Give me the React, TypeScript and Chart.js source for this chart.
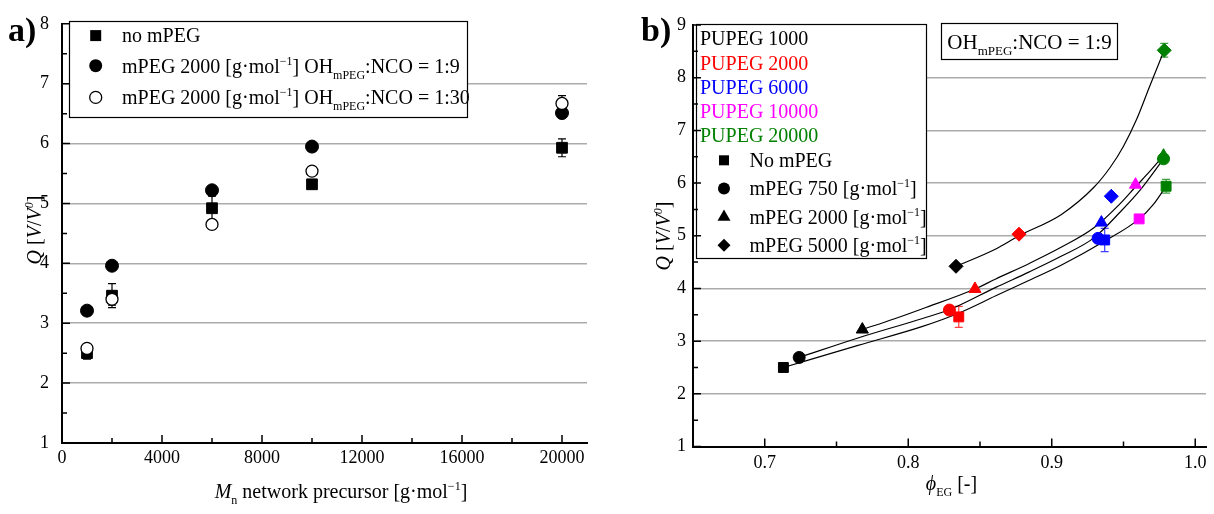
import React, { useEffect, useRef } from 'react';
import { Chart, registerables } from 'chart.js';

Chart.register(...registerables);

const FONT = "'Liberation Serif', 'Times New Roman', serif";

// ---------------- Panel a) data ----------------
const precursorMn = [1000, 2000, 6000, 10000, 20000];
const qNoMpeg = [2.5, 3.46, 4.92, 5.32, 5.93];
const qNoMpegErr = [0.1, 0.2, 0.2, 0.04, 0.15];
const qMpeg9 = [3.21, 3.96, 5.22, 5.95, 6.51];
const qMpeg9Err = [0.03, 0.03, 0.04, 0.03, 0.04];
const qMpeg30 = [2.58, 3.4, 4.65, 5.54, 6.67];
const qMpeg30Err = [0.06, 0.1, 0.08, 0.05, 0.13];

const panelAXTicks = [0, 4000, 8000, 12000, 16000, 20000];
const panelAXTickLabels = ['0', '4000', '8000', '12000', '16000', '20000'];
const panelAXMinor = [2000, 6000, 10000, 14000, 18000];
const panelAYTicks = [1, 2, 3, 4, 5, 6, 7, 8];
const panelAYTickLabels = ['1', '2', '3', '4', '5', '6', '7', '8'];
const panelAYMinor = [1.5, 2.5, 3.5, 4.5, 5.5, 6.5, 7.5];

// ---------------- Panel b) data ----------------
const pupegLabels = ['PUPEG 1000', 'PUPEG 2000', 'PUPEG 6000', 'PUPEG 10000', 'PUPEG 20000'];
const pupegColors = ['#000000', '#ff0000', '#0000ff', '#ff00ff', '#008000'];
const markerLabels = ['No mPEG', 'mPEG 750 [g·mol', 'mPEG 2000 [g·mol', 'mPEG 5000 [g·mol'];

const phiNoMpeg = [0.713, 0.8352, 0.9369, 0.9609, 0.9797];
const qBNoMpeg = [2.5, 3.46, 4.92, 5.32, 5.94];
const qBNoMpegErr = [0.06, 0.2, 0.22, 0.04, 0.13];
const phiMpeg750 = [0.724, 0.8287, 0.9323, null, 0.9779];
const qBMpeg750 = [2.69, 3.59, 4.95, null, 6.46];
const phiMpeg2000 = [0.768, 0.8465, 0.9346, 0.9584, 0.9779];
const qBMpeg2000 = [3.22, 3.99, 5.25, 5.97, 6.52];
const phiMpeg5000 = [0.8333, 0.8772, 0.9415, null, 0.9784];
const qBMpeg5000 = [4.42, 5.03, 5.75, null, 8.52];
const qBMpeg5000Err = [0, 0, 0, null, 0.13];

// fitted curves
const fitNoMpegPhi = [0.713, 0.765, 0.81, 0.835, 0.861, 0.884, 0.9065, 0.937, 0.961, 0.971, 0.9797];
const fitNoMpegQ = [2.5, 2.92, 3.28, 3.53, 3.86, 4.15, 4.44, 4.9, 5.32, 5.6, 5.94];
const fitMpeg750Phi = [0.724, 0.765, 0.81, 0.829, 0.861, 0.884, 0.9065, 0.9294, 0.9477, 0.9614, 0.9779];
const fitMpeg750Q = [2.69, 3.06, 3.43, 3.6, 4.02, 4.31, 4.61, 4.96, 5.45, 5.86, 6.46];
const fitMpeg2000Phi = [0.768, 0.79, 0.8104, 0.8465, 0.861, 0.884, 0.9065, 0.9294, 0.9477, 0.9584, 0.9683, 0.9779];
const fitMpeg2000Q = [3.22, 3.42, 3.62, 3.99, 4.18, 4.47, 4.78, 5.15, 5.61, 5.93, 6.22, 6.52];
const fitMpeg5000Phi = [0.8333, 0.861, 0.8772, 0.9065, 0.9294, 0.9408, 0.95, 0.959, 0.968, 0.9784];
const fitMpeg5000Q = [4.42, 4.75, 5.0, 5.4, 5.92, 6.3, 6.7, 7.2, 7.82, 8.52];

const panelBXTicks = [0.7, 0.8, 0.9, 1.0];
const panelBXTickLabels = ['0.7', '0.8', '0.9', '1.0'];
const panelBXMinor = [0.75, 0.85, 0.95];
const panelBYTicks = [1, 2, 3, 4, 5, 6, 7, 8, 9];
const panelBYTickLabels = ['1', '2', '3', '4', '5', '6', '7', '8', '9'];
const panelBYMinor = [1.5, 2.5, 3.5, 4.5, 5.5, 6.5, 7.5, 8.5];

// ---------------- helpers ----------------
type Part = { t: string; i?: boolean; b?: boolean; sup?: boolean; sub?: boolean };

function partFont(p: Part, size: number) {
  const s = p.sup || p.sub ? Math.round(size * 0.62) : size;
  return `${p.i ? 'italic ' : ''}${p.b ? 'bold ' : ''}${s}px ${FONT}`;
}

function richWidth(ctx: CanvasRenderingContext2D, parts: Part[], size: number) {
  let w = 0;
  for (const p of parts) {
    ctx.font = partFont(p, size);
    w += ctx.measureText(p.t).width;
  }
  return w;
}

function drawRich(ctx: CanvasRenderingContext2D, parts: Part[], x: number, y: number, size: number, align = 'left', color = '#000') {
  ctx.save();
  ctx.textBaseline = 'alphabetic';
  ctx.textAlign = 'left';
  ctx.fillStyle = color;
  const w = richWidth(ctx, parts, size);
  let cx = x;
  if (align === 'center') cx -= w / 2;
  else if (align === 'right') cx -= w;
  for (const p of parts) {
    ctx.font = partFont(p, size);
    const dy = p.sup ? -size * 0.4 : p.sub ? size * 0.3 : 0;
    ctx.fillText(p.t, cx, y + dy);
    cx += ctx.measureText(p.t).width;
  }
  ctx.restore();
}

function drawMarker(ctx: CanvasRenderingContext2D, shape: string, x: number, y: number, size: number, fill: string, stroke?: string) {
  ctx.save();
  ctx.beginPath();
  if (shape === 'rect') ctx.rect(x - size / 2, y - size / 2, size, size);
  else if (shape === 'circle') ctx.arc(x, y, size / 2, 0, Math.PI * 2);
  else if (shape === 'triangle') {
    const r = size / Math.sqrt(3);
    ctx.moveTo(x, y - r);
    ctx.lineTo(x + size / 2, y + r / 2);
    ctx.lineTo(x - size / 2, y + r / 2);
    ctx.closePath();
  } else if (shape === 'diamond') {
    const r = size / 2;
    ctx.moveTo(x, y - r);
    ctx.lineTo(x + r, y);
    ctx.lineTo(x, y + r);
    ctx.lineTo(x - r, y);
    ctx.closePath();
  }
  ctx.fillStyle = fill;
  ctx.fill();
  if (stroke) {
    ctx.strokeStyle = stroke;
    ctx.lineWidth = 1.3;
    ctx.stroke();
  }
  ctx.restore();
}

function drawInnerTicks(chart: any, xMajor: number[], xMinor: number[], yMajor: number[], yMinor: number[]) {
  const { ctx, chartArea: a, scales } = chart;
  const x = scales.x;
  const y = scales.y;
  ctx.save();
  ctx.strokeStyle = '#000';
  ctx.lineWidth = 1.5;
  ctx.beginPath();
  for (const v of xMajor) { const p = x.getPixelForValue(v); ctx.moveTo(p, a.bottom); ctx.lineTo(p, a.bottom - 8); }
  for (const v of xMinor) { const p = x.getPixelForValue(v); ctx.moveTo(p, a.bottom); ctx.lineTo(p, a.bottom - 5); }
  for (const v of yMajor) { const p = y.getPixelForValue(v); ctx.moveTo(a.left, p); ctx.lineTo(a.left + 8, p); }
  for (const v of yMinor) { const p = y.getPixelForValue(v); ctx.moveTo(a.left, p); ctx.lineTo(a.left + 5, p); }
  ctx.stroke();
  ctx.restore();
}

function drawErrorBars(chart: any, xs: (number | null)[], ys: (number | null)[], errs: (number | null)[], color: string | string[]) {
  const { ctx, scales } = chart;
  ctx.save();
  ctx.lineWidth = 1.2;
  xs.forEach((xv, i) => {
    const yv = ys[i];
    const e = errs[i];
    if (xv == null || yv == null || !e) return;
    const px = scales.x.getPixelForValue(xv);
    const top = scales.y.getPixelForValue(yv + e);
    const bot = scales.y.getPixelForValue(yv - e);
    ctx.strokeStyle = Array.isArray(color) ? color[i] : color;
    ctx.beginPath();
    ctx.moveTo(px, top); ctx.lineTo(px, bot);
    ctx.moveTo(px - 4, top); ctx.lineTo(px + 4, top);
    ctx.moveTo(px - 4, bot); ctx.lineTo(px + 4, bot);
    ctx.stroke();
  });
  ctx.restore();
}

function toPoints(xs: (number | null)[], ys: (number | null)[]) {
  const pts: { x: number; y: number }[] = [];
  const cols: string[] = [];
  xs.forEach((x, i) => {
    const y = ys[i];
    if (x != null && y != null) {
      pts.push({ x, y });
      cols.push(pupegColors[i]);
    }
  });
  return { pts, cols };
}

const tickFont = { family: FONT, size: 18 };

// ---------------- Panel a) plugin ----------------
const panelAPlugin = {
  id: 'panelA',
  beforeDatasetsDraw(chart: any) {
    const ctx: CanvasRenderingContext2D = chart.ctx;
    ctx.save();
    ctx.fillStyle = '#fff';
    ctx.fillRect(69.5, 21.5, 398, 96);
    ctx.strokeStyle = '#000';
    ctx.lineWidth = 1.2;
    ctx.strokeRect(69.5, 21.5, 398, 96);
    ctx.restore();
    drawMarker(ctx, 'rect', 95.7, 35.6, 11, '#000');
    drawMarker(ctx, 'circle', 95.7, 65.7, 13, '#000');
    drawMarker(ctx, 'circle', 95.7, 97.4, 12, '#fff', '#000');
    drawRich(ctx, [{ t: 'no mPEG' }], 122, 42.4, 20);
    drawRich(ctx, [{ t: 'mPEG 2000 [g·mol' }, { t: '−1', sup: true }, { t: '] OH' }, { t: 'mPEG', sub: true }, { t: ':NCO = 1:9' }], 122, 72.5, 20);
    drawRich(ctx, [{ t: 'mPEG 2000 [g·mol' }, { t: '−1', sup: true }, { t: '] OH' }, { t: 'mPEG', sub: true }, { t: ':NCO = 1:30' }], 122, 104.2, 20);

    drawErrorBars(chart, precursorMn, qNoMpeg, qNoMpegErr, '#000');
    drawErrorBars(chart, precursorMn, qMpeg9, qMpeg9Err, '#000');
    drawErrorBars(chart, precursorMn, qMpeg30, qMpeg30Err, '#000');
  },
  afterDatasetsDraw(chart: any) {
    const ctx: CanvasRenderingContext2D = chart.ctx;
    drawInnerTicks(chart, panelAXTicks, panelAXMinor, panelAYTicks, panelAYMinor);
    drawRich(ctx, [{ t: 'a)', b: true }], 8, 41, 34);
    drawRich(ctx, [{ t: 'M', i: true }, { t: 'n', sub: true }, { t: ' network precursor [g·mol' }, { t: '−1', sup: true }, { t: ']' }], 341, 498, 20, 'center');
    ctx.save();
    ctx.translate(41, 230);
    ctx.rotate(-Math.PI / 2);
    drawRich(ctx, [{ t: 'Q', i: true }, { t: ' [' }, { t: 'V', i: true }, { t: '/' }, { t: 'V', i: true }, { t: '0', sup: true, i: true }, { t: ']' }], 0, 0, 20, 'center');
    ctx.restore();
  },
};

// ---------------- Panel b) plugin ----------------
const panelBPlugin = {
  id: 'panelB',
  beforeDatasetsDraw(chart: any) {
    const ctx: CanvasRenderingContext2D = chart.ctx;
    ctx.save();
    ctx.fillStyle = '#fff';
    ctx.strokeStyle = '#000';
    ctx.lineWidth = 1.2;
    ctx.fillRect(96.5, 24.5, 230, 234);
    ctx.strokeRect(96.5, 24.5, 230, 234);
    ctx.fillRect(341.5, 23.5, 176, 36);
    ctx.strokeRect(341.5, 23.5, 176, 36);
    ctx.restore();
    const pupegBase = [45.2, 69.5, 93.5, 117.9, 141.9];
    pupegLabels.forEach((l, i) => drawRich(ctx, [{ t: l }], 100, pupegBase[i], 20, 'left', pupegColors[i]));
    const shapes = ['rect', 'circle', 'triangle', 'diamond'];
    const sizes = [10, 12, 13, 13];
    const rowC = [160.3, 188.6, 216.9, 245.3];
    shapes.forEach((s, i) => {
      drawMarker(ctx, s, 124, rowC[i], sizes[i], '#000');
      const parts: Part[] = i === 0 ? [{ t: markerLabels[i] }] : [{ t: markerLabels[i] }, { t: '−1', sup: true }, { t: ']' }];
      drawRich(ctx, parts, 149.5, rowC[i] + 6.8, 20);
    });
    drawRich(ctx, [{ t: 'OH' }, { t: 'mPEG', sub: true }, { t: ':NCO = 1:9' }], 429.5, 48.5, 21, 'center');

    drawErrorBars(chart, phiNoMpeg, qBNoMpeg, qBNoMpegErr, pupegColors.map((c) => c + 'c0'));
    drawErrorBars(chart, phiMpeg5000, qBMpeg5000, qBMpeg5000Err, pupegColors.map((c) => c + 'c0'));
  },
  afterDatasetsDraw(chart: any) {
    const ctx: CanvasRenderingContext2D = chart.ctx;
    drawInnerTicks(chart, panelBXTicks, panelBXMinor, panelBYTicks, panelBYMinor);
    drawRich(ctx, [{ t: 'b)', b: true }], 41, 41, 34);
    const a = chart.chartArea;
    drawRich(ctx, [{ t: 'ϕ', i: true }, { t: 'EG', sub: true }, { t: ' [-]' }], (a.left + a.right) / 2 + 2, 490, 20, 'center');
    ctx.save();
    ctx.translate(70, 236);
    ctx.rotate(-Math.PI / 2);
    drawRich(ctx, [{ t: 'Q', i: true }, { t: ' [' }, { t: 'V', i: true }, { t: '/' }, { t: 'V', i: true }, { t: '0', sup: true, i: true }, { t: ']' }], 0, 0, 20, 'center');
    ctx.restore();
  },
};

function gridColor(limits: number[]) {
  return (c: any) => (c.tick && limits.includes(c.tick.value) ? 'rgba(0,0,0,0)' : '#ababab');
}

function leftConfig(): any {
  return {
    type: 'scatter',
    data: {
      datasets: [
        {
          label: 'mPEG 2000 OH:NCO = 1:30',
          data: precursorMn.map((x, i) => ({ x, y: qMpeg30[i] })),
          pointStyle: 'circle',
          pointRadius: 6,
          pointBackgroundColor: '#fff',
          pointBorderColor: '#000',
          pointBorderWidth: 1.3,
        },
        {
          label: 'mPEG 2000 OH:NCO = 1:9',
          data: precursorMn.map((x, i) => ({ x, y: qMpeg9[i] })),
          pointStyle: 'circle',
          pointRadius: 6.5,
          pointBackgroundColor: '#000',
          pointBorderColor: '#000',
          pointBorderWidth: 1,
        },
        {
          label: 'no mPEG',
          data: precursorMn.map((x, i) => ({ x, y: qNoMpeg[i] })),
          pointStyle: 'rect',
          pointRadius: 7.6,
          pointBackgroundColor: '#000',
          pointBorderColor: '#000',
          pointBorderWidth: 1,
        },
      ],
    },
    options: {
      responsive: false,
      animation: false,
      layout: { padding: { top: 22, right: 13, bottom: 0, left: 0 } },
      plugins: { legend: { display: false }, tooltip: { enabled: false } },
      scales: {
        x: {
          type: 'linear',
          min: 0,
          max: 21000,
          afterBuildTicks: (s: any) => { s.ticks = panelAXTicks.map((v) => ({ value: v })); },
          afterFit: (s: any) => { s.height = 71; },
          grid: { display: false, drawTicks: false },
          border: { display: true, color: '#000', width: 2 },
          ticks: { font: tickFont, color: '#000', padding: 4, maxRotation: 0, autoSkip: false, callback: (_v: any, i: number) => panelAXTickLabels[i] },
        },
        y: {
          type: 'linear',
          min: 1,
          max: 8,
          afterBuildTicks: (s: any) => { s.ticks = panelAYTicks.map((v) => ({ value: v })); },
          afterFit: (s: any) => { s.width = 62; },
          grid: { color: gridColor([1, 8]), lineWidth: 1.5, drawTicks: false },
          border: { display: true, color: '#000', width: 2 },
          ticks: { font: tickFont, color: '#000', padding: 13, autoSkip: false, callback: (_v: any, i: number) => panelAYTickLabels[i] },
        },
      },
    },
    plugins: [panelAPlugin],
  };
}

function rightConfig(): any {
  const sq = toPoints(phiNoMpeg, qBNoMpeg);
  const ci = toPoints(phiMpeg750, qBMpeg750);
  const tr = toPoints(phiMpeg2000, qBMpeg2000);
  const di = toPoints(phiMpeg5000, qBMpeg5000);
  const pointSet = (label: string, p: any, style: string, r: number) => ({
    label,
    data: p.pts,
    pointStyle: style,
    pointRadius: r,
    pointBackgroundColor: p.cols,
    pointBorderColor: p.cols,
    pointBorderWidth: 1,
  });
  const fitSet = (label: string, xs: number[], ys: number[]) => ({
    label,
    data: xs.map((x, i) => ({ x, y: ys[i] })),
    showLine: true,
    pointRadius: 0,
    borderColor: '#000',
    borderWidth: 1.2,
    cubicInterpolationMode: 'monotone',
    fill: false,
  });
  return {
    type: 'scatter',
    data: {
      datasets: [
        pointSet('mPEG 2000', tr, 'triangle', 7),
        pointSet('mPEG 750', ci, 'circle', 6),
        pointSet('No mPEG', sq, 'rect', 7),
        pointSet('mPEG 5000', di, 'rectRot', 7),
        fitSet('fit No mPEG', fitNoMpegPhi, fitNoMpegQ),
        fitSet('fit mPEG 750', fitMpeg750Phi, fitMpeg750Q),
        fitSet('fit mPEG 2000', fitMpeg2000Phi, fitMpeg2000Q),
        fitSet('fit mPEG 5000', fitMpeg5000Phi, fitMpeg5000Q),
      ],
    },
    options: {
      responsive: false,
      animation: false,
      layout: { padding: { top: 25, right: 0, bottom: 0, left: 0 } },
      plugins: { legend: { display: false }, tooltip: { enabled: false } },
      scales: {
        x: {
          type: 'linear',
          min: 0.65,
          max: 1.0075,
          afterBuildTicks: (s: any) => { s.ticks = panelBXTicks.map((v) => ({ value: v })); },
          afterFit: (s: any) => { s.height = 67.5; },
          grid: { display: false, drawTicks: false },
          border: { display: true, color: '#000', width: 2 },
          ticks: { font: tickFont, color: '#000', padding: 6, maxRotation: 0, autoSkip: false, callback: (_v: any, i: number) => panelBXTickLabels[i] },
        },
        y: {
          type: 'linear',
          min: 1,
          max: 9,
          afterBuildTicks: (s: any) => { s.ticks = panelBYTicks.map((v) => ({ value: v })); },
          afterFit: (s: any) => { s.width = 93; },
          grid: { color: gridColor([1, 9]), lineWidth: 1.5, drawTicks: false },
          border: { display: true, color: '#000', width: 2 },
          ticks: { font: tickFont, color: '#000', padding: 7, autoSkip: false, callback: (_v: any, i: number) => panelBYTickLabels[i] },
        },
      },
    },
    plugins: [panelBPlugin],
  };
}

export default function App() {
  const leftRef = useRef<HTMLCanvasElement>(null);
  const rightRef = useRef<HTMLCanvasElement>(null);
  useEffect(() => {
    const a = new Chart(leftRef.current as HTMLCanvasElement, leftConfig());
    const b = new Chart(rightRef.current as HTMLCanvasElement, rightConfig());
    return () => {
      a.destroy();
      b.destroy();
    };
  }, []);
  return (
    <div style={{ position: 'absolute', left: 0, top: 0, width: 1214, height: 514, background: '#fff', overflow: 'hidden' }}>
      <canvas ref={leftRef} width={600} height={514} style={{ position: 'absolute', left: 0, top: 0, width: 600, height: 514 }} />
      <canvas ref={rightRef} width={614} height={514} style={{ position: 'absolute', left: 600, top: 0, width: 614, height: 514 }} />
    </div>
  );
}
